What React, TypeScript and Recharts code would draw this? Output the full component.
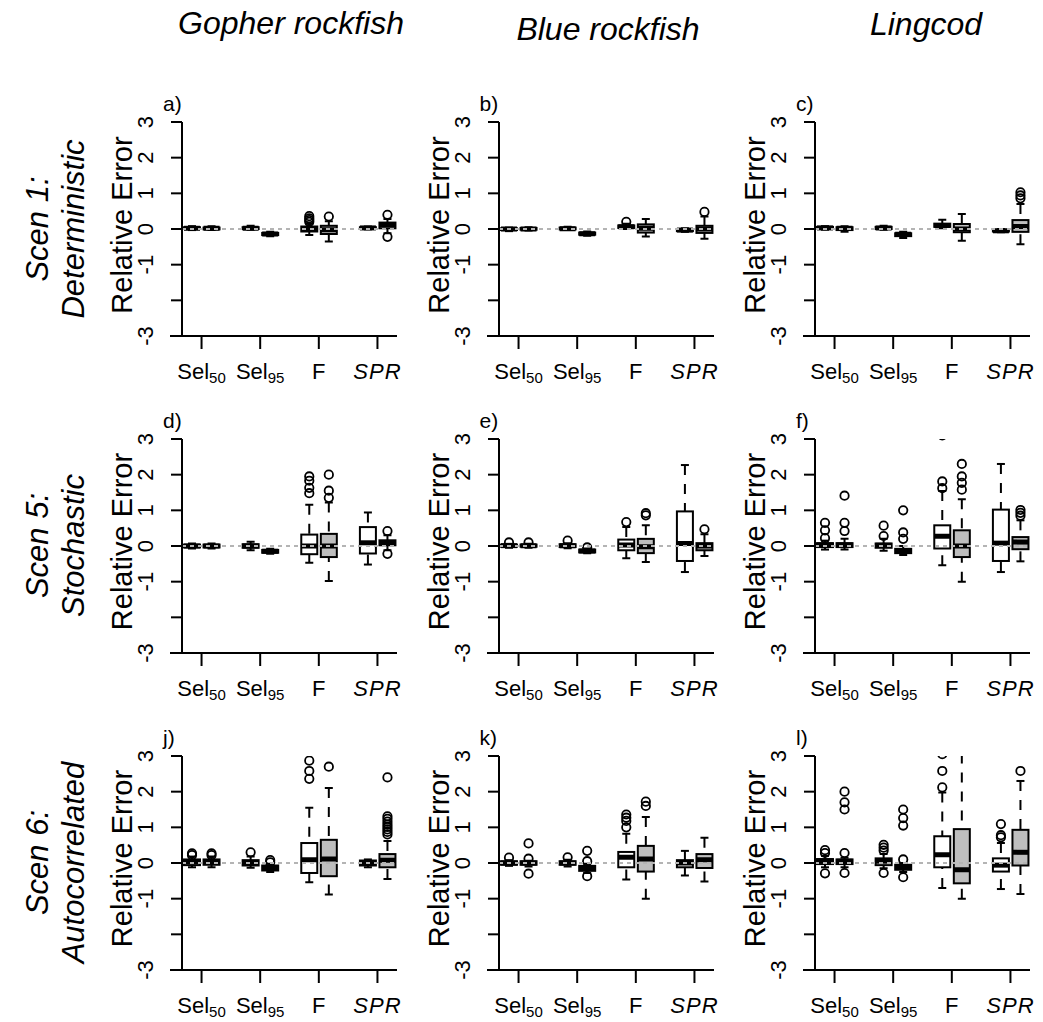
import React from 'react';
import { ComposedChart, Bar, XAxis, YAxis, ReferenceLine } from 'recharts';

type Box = { wl: number; q1: number; med: number; q3: number; wh: number; out: number[] };

// ---------- categories / labels ----------
const SPECIES = ['Gopher rockfish', 'Blue rockfish', 'Lingcod'];
const SCEN_LINE1 = ['Scen 1:', 'Scen 5:', 'Scen 6:'];
const SCEN_LINE2 = ['Deterministic', 'Stochastic', 'Autocorrelated'];
const PANEL_LETTERS = [
  ['a)', 'b)', 'c)'],
  ['d)', 'e)', 'f)'],
  ['j)', 'k)', 'l)'],
];
const PARAM_LABELS = [
  { main: 'Sel', sub: '50', italic: false },
  { main: 'Sel', sub: '95', italic: false },
  { main: 'F', sub: '', italic: false },
  { main: 'SPR', sub: '', italic: true },
];
const PARAM_TICKS = [1.5, 4.5, 7.5, 10.5];
const BOX_POSITIONS = [1, 2, 4, 5, 7, 8, 10, 11];
const Y_TICKS = [-3, -2, -1, 0, 1, 2, 3];
const Y_TICK_LABELS = ['-3', '', '-1', '0', '1', '2', '3'];
const BOX_FILLS = ['#FFFFFF', '#BEBEBE'];
const Y_MIN = -3;
const Y_MAX = 3;

// ---------- data: order = Sel50 (white, grey), Sel95 (white, grey), F (white, grey), SPR (white, grey) ----------
const boxesA: Box[] = [
  { wl: -0.03, q1: 0.0, med: 0.02, q3: 0.05, wh: 0.08, out: [] },
  { wl: -0.03, q1: -0.01, med: 0.02, q3: 0.04, wh: 0.08, out: [] },
  { wl: -0.02, q1: 0.0, med: 0.02, q3: 0.05, wh: 0.09, out: [] },
  { wl: -0.2, q1: -0.17, med: -0.14, q3: -0.11, wh: -0.08, out: [] },
  { wl: -0.17, q1: -0.07, med: 0.0, q3: 0.07, wh: 0.15, out: [0.2, 0.25, 0.3, 0.36] },
  { wl: -0.35, q1: -0.14, med: -0.02, q3: 0.09, wh: 0.22, out: [0.35] },
  { wl: -0.01, q1: 0.01, med: 0.03, q3: 0.05, wh: 0.07, out: [] },
  { wl: -0.12, q1: 0.02, med: 0.12, q3: 0.18, wh: 0.28, out: [0.4, -0.22] },
];
const boxesB: Box[] = [
  { wl: -0.06, q1: -0.03, med: 0.0, q3: 0.02, wh: 0.04, out: [] },
  { wl: -0.04, q1: -0.02, med: 0.0, q3: 0.03, wh: 0.05, out: [] },
  { wl: -0.03, q1: -0.01, med: 0.01, q3: 0.04, wh: 0.06, out: [] },
  { wl: -0.19, q1: -0.16, med: -0.13, q3: -0.1, wh: -0.07, out: [] },
  { wl: 0.0, q1: 0.03, med: 0.06, q3: 0.1, wh: 0.15, out: [0.2] },
  { wl: -0.21, q1: -0.1, med: 0.02, q3: 0.13, wh: 0.28, out: [] },
  { wl: -0.08, q1: -0.06, med: -0.03, q3: -0.01, wh: 0.02, out: [] },
  { wl: -0.27, q1: -0.11, med: 0.0, q3: 0.09, wh: 0.35, out: [0.48] },
];
const boxesC: Box[] = [
  { wl: -0.02, q1: 0.0, med: 0.03, q3: 0.06, wh: 0.08, out: [] },
  { wl: -0.08, q1: -0.03, med: 0.02, q3: 0.05, wh: 0.08, out: [] },
  { wl: -0.02, q1: 0.0, med: 0.03, q3: 0.06, wh: 0.09, out: [] },
  { wl: -0.25, q1: -0.2, med: -0.15, q3: -0.12, wh: -0.08, out: [] },
  { wl: 0.02, q1: 0.06, med: 0.1, q3: 0.15, wh: 0.26, out: [] },
  { wl: -0.33, q1: -0.09, med: 0.0, q3: 0.14, wh: 0.42, out: [] },
  { wl: -0.09, q1: -0.07, med: -0.05, q3: -0.02, wh: 0.0, out: [] },
  { wl: -0.43, q1: -0.08, med: 0.07, q3: 0.25, wh: 0.7, out: [0.86, 0.94, 1.03] },
];
const boxesD: Box[] = [
  { wl: -0.07, q1: -0.04, med: 0.0, q3: 0.04, wh: 0.07, out: [] },
  { wl: -0.07, q1: -0.04, med: 0.0, q3: 0.04, wh: 0.07, out: [] },
  { wl: -0.12, q1: -0.05, med: 0.0, q3: 0.05, wh: 0.12, out: [] },
  { wl: -0.22, q1: -0.19, med: -0.15, q3: -0.11, wh: -0.08, out: [] },
  { wl: -0.47, q1: -0.23, med: 0.0, q3: 0.32, wh: 1.16, out: [1.48, 1.63, 1.83, 1.95] },
  { wl: -0.98, q1: -0.31, med: 0.0, q3: 0.34, wh: 1.22, out: [1.35, 1.55, 2.0] },
  { wl: -0.52, q1: -0.21, med: 0.09, q3: 0.53, wh: 0.94, out: [] },
  { wl: -0.12, q1: 0.02, med: 0.1, q3: 0.16, wh: 0.3, out: [0.42, -0.22] },
];
const boxesE: Box[] = [
  { wl: -0.05, q1: -0.02, med: 0.01, q3: 0.04, wh: 0.06, out: [0.1] },
  { wl: -0.05, q1: -0.02, med: 0.01, q3: 0.04, wh: 0.06, out: [0.1] },
  { wl: -0.06, q1: -0.03, med: 0.01, q3: 0.05, wh: 0.08, out: [0.15] },
  { wl: -0.2, q1: -0.18, med: -0.14, q3: -0.1, wh: -0.07, out: [-0.04] },
  { wl: -0.34, q1: -0.12, med: 0.03, q3: 0.18, wh: 0.53, out: [0.67] },
  { wl: -0.45, q1: -0.2, med: -0.02, q3: 0.2, wh: 0.58, out: [0.86, 0.92] },
  { wl: -0.73, q1: -0.42, med: 0.07, q3: 0.97, wh: 2.27, out: [] },
  { wl: -0.28, q1: -0.12, med: 0.0, q3: 0.08, wh: 0.33, out: [0.47] },
];
const boxesF: Box[] = [
  { wl: -0.1, q1: -0.03, med: 0.03, q3: 0.08, wh: 0.15, out: [0.22, 0.44, 0.65] },
  { wl: -0.1, q1: -0.03, med: 0.03, q3: 0.08, wh: 0.2, out: [0.42, 0.65, 1.41] },
  { wl: -0.13, q1: -0.05, med: 0.02, q3: 0.07, wh: 0.2, out: [0.28, 0.57] },
  { wl: -0.25, q1: -0.2, med: -0.14, q3: -0.08, wh: 0.0, out: [0.2, 0.38, 1.0] },
  { wl: -0.54, q1: -0.07, med: 0.27, q3: 0.58, wh: 1.54, out: [1.62, 1.81, 3.1] },
  { wl: -1.0, q1: -0.31, med: 0.0, q3: 0.44, wh: 1.31, out: [1.58, 1.77, 1.95, 2.3] },
  { wl: -0.73, q1: -0.42, med: 0.08, q3: 1.02, wh: 2.3, out: [] },
  { wl: -0.43, q1: -0.09, med: 0.11, q3: 0.25, wh: 0.72, out: [0.85, 0.93, 1.01] },
];
const boxesJ: Box[] = [
  { wl: -0.12, q1: -0.06, med: 0.03, q3: 0.1, wh: 0.18, out: [0.22, 0.27] },
  { wl: -0.12, q1: -0.05, med: 0.03, q3: 0.1, wh: 0.18, out: [0.22, 0.27] },
  { wl: -0.13, q1: -0.07, med: 0.0, q3: 0.08, wh: 0.18, out: [0.3] },
  { wl: -0.25, q1: -0.21, med: -0.15, q3: -0.07, wh: -0.02, out: [0.02, 0.08] },
  { wl: -0.54, q1: -0.28, med: 0.09, q3: 0.56, wh: 1.55, out: [2.36, 2.58, 2.87] },
  { wl: -0.88, q1: -0.37, med: 0.11, q3: 0.65, wh: 2.1, out: [2.7] },
  { wl: -0.12, q1: -0.07, med: 0.0, q3: 0.07, wh: 0.1, out: [] },
  { wl: -0.45, q1: -0.12, med: 0.08, q3: 0.25, wh: 0.62, out: [0.8, 0.87, 0.94, 1.01, 1.08, 1.16, 1.24, 1.31, 2.4] },
];
const boxesK: Box[] = [
  { wl: -0.08, q1: -0.05, med: 0.0, q3: 0.05, wh: 0.08, out: [0.15] },
  { wl: -0.1, q1: -0.05, med: 0.0, q3: 0.05, wh: 0.06, out: [0.12, 0.55, -0.3] },
  { wl: -0.1, q1: -0.05, med: 0.0, q3: 0.05, wh: 0.09, out: [0.16] },
  { wl: -0.28, q1: -0.22, med: -0.15, q3: -0.08, wh: -0.02, out: [0.05, 0.34, -0.37] },
  { wl: -0.46, q1: -0.12, med: 0.16, q3: 0.31, wh: 0.82, out: [1.0, 1.18, 1.27, 1.36] },
  { wl: -1.0, q1: -0.24, med: 0.11, q3: 0.48, wh: 1.29, out: [1.6, 1.72] },
  { wl: -0.35, q1: -0.12, med: 0.0, q3: 0.08, wh: 0.34, out: [] },
  { wl: -0.52, q1: -0.14, med: 0.09, q3: 0.25, wh: 0.71, out: [] },
];
const boxesL: Box[] = [
  { wl: -0.12, q1: -0.03, med: 0.06, q3: 0.11, wh: 0.2, out: [0.28, 0.36, -0.29] },
  { wl: -0.12, q1: -0.03, med: 0.05, q3: 0.1, wh: 0.15, out: [0.28, -0.28, 1.5, 1.7, 2.0] },
  { wl: -0.15, q1: -0.06, med: 0.05, q3: 0.13, wh: 0.25, out: [0.35, 0.43, 0.51, -0.28] },
  { wl: -0.25, q1: -0.19, med: -0.12, q3: -0.05, wh: 0.0, out: [0.1, -0.4, 1.05, 1.26, 1.5] },
  { wl: -0.7, q1: -0.12, med: 0.23, q3: 0.75, wh: 1.98, out: [2.12, 2.58, 3.05] },
  { wl: -1.0, q1: -0.57, med: -0.19, q3: 0.95, wh: 3.6, out: [] },
  { wl: -0.73, q1: -0.24, med: -0.06, q3: 0.13, wh: 0.56, out: [0.72, 0.78, 1.09] },
  { wl: -0.87, q1: -0.07, med: 0.3, q3: 0.93, wh: 2.3, out: [2.58] },
];

const PANEL_DATA: Box[][][] = [
  [boxesA, boxesB, boxesC],
  [boxesD, boxesE, boxesF],
  [boxesJ, boxesK, boxesL],
];

// ---------- layout ----------
const FONT = '"Liberation Sans", Arial, Helvetica, sans-serif';
const COL_AXIS_X = [182, 498.5, 815];
const ROW_TOP = [122, 438.5, 755.5];
const PLOT_W = 215;
const PLOT_H = 214;
const CH_LEFT = 100;
const CH_TOP = 50;
const CH_W = CH_LEFT + PLOT_W + 30;
const CH_H = CH_TOP + PLOT_H + 60;

function BoxShape(props: any) {
  const { x, y, width, height, payload, clipId, index } = props;
  if (!payload || x == null || y == null) return null;
  const cx = x + width / 2;
  const py = (v: number) => y + ((Y_MAX - v) / (Y_MAX - Y_MIN)) * height;
  const half = width / 2;
  const cap = width / 4;
  const { wl, q1, med, q3, wh, out, fill } = payload;
  const id = `${clipId}-${index}`;
  return (
    <g>
      <defs>
        <clipPath id={id}>
          <rect x={cx - 40} y={y} width={80} height={height + 40} />
        </clipPath>
      </defs>
      <g clipPath={`url(#${id})`}>
        <line x1={cx} x2={cx} y1={py(wh)} y2={py(q3)} stroke="#000" strokeWidth={2} strokeDasharray="10 9" />
        <line x1={cx} x2={cx} y1={py(wl)} y2={py(q1)} stroke="#000" strokeWidth={2} strokeDasharray="10 9" />
        <line x1={cx - cap} x2={cx + cap} y1={py(wh)} y2={py(wh)} stroke="#000" strokeWidth={2} />
        <line x1={cx - cap} x2={cx + cap} y1={py(wl)} y2={py(wl)} stroke="#000" strokeWidth={2} />
        <rect x={cx - half} y={py(q3)} width={width} height={Math.max(py(q1) - py(q3), 0.5)} fill={fill} stroke="#000" strokeWidth={2} />
        <line x1={cx - half} x2={cx + half} y1={py(med)} y2={py(med)} stroke="#000" strokeWidth={5} />
        {out.map((o: number, k: number) => (
          <circle key={k} cx={cx} cy={py(o)} r={4.2} fill="none" stroke="#000" strokeWidth={1.8} />
        ))}
      </g>
    </g>
  );
}

function XTick(props: any) {
  const { x, y, payload } = props;
  const idx = PARAM_TICKS.indexOf(payload.value);
  const lab = PARAM_LABELS[idx];
  if (!lab) return null;
  return (
    <text x={x} y={y + 28} textAnchor="middle" fontSize={22} fontFamily={FONT} fill="#000" fontStyle={lab.italic ? 'italic' : 'normal'} letterSpacing={lab.italic ? 1 : 0}>
      {lab.main}
      {lab.sub ? (
        <tspan fontSize={15} dy={4}>
          {lab.sub}
        </tspan>
      ) : null}
    </text>
  );
}

function YTick(props: any) {
  const { x, y, payload } = props;
  const idx = Y_TICKS.indexOf(payload.value);
  const label = Y_TICK_LABELS[idx];
  if (!label) return null;
  const bx = x - 16;
  return (
    <text x={bx} y={y} transform={`rotate(-90 ${bx} ${y})`} textAnchor="middle" fontSize={22} fontFamily={FONT} fill="#000">
      {label}
    </text>
  );
}

function Panel({ boxes, id, left, top }: { boxes: Box[]; id: string; left: number; top: number }) {
  const data = boxes.map((b, i) => ({
    ...b,
    pos: BOX_POSITIONS[i],
    fill: BOX_FILLS[i % 2],
    span: [Y_MIN, Y_MAX],
  }));
  return (
    <div style={{ position: 'absolute', left: left - CH_LEFT, top: top - CH_TOP }}>
      <ComposedChart width={CH_W} height={CH_H} data={data} margin={{ top: CH_TOP, right: 30, bottom: 0, left: 40 }}>
        <XAxis
          type="number"
          dataKey="pos"
          domain={[0.5, 11.5]}
          ticks={PARAM_TICKS}
          interval={0}
          allowDataOverflow
          height={60}
          tickSize={13}
          axisLine={{ stroke: '#000', strokeWidth: 2 }}
          tickLine={{ stroke: '#000', strokeWidth: 2 }}
          tick={<XTick />}
        />
        <YAxis
          type="number"
          domain={[Y_MIN, Y_MAX]}
          ticks={Y_TICKS}
          interval={0}
          allowDataOverflow
          width={60}
          tickSize={11}
          axisLine={{ stroke: '#000', strokeWidth: 2 }}
          tickLine={{ stroke: '#000', strokeWidth: 2 }}
          tick={<YTick />}
        />
        <Bar dataKey="span" barSize={16} isAnimationActive={false} shape={(p: any) => <BoxShape {...p} clipId={id} />} />
        <ReferenceLine y={0} stroke="#b4b4b4" strokeWidth={2} strokeDasharray="4 4" />
        <ReferenceLine
          segment={[
            { x: 0.5 - 12 / (PLOT_W / 11), y: Y_MIN },
            { x: 0.5, y: Y_MIN },
          ]}
          stroke="#000"
          strokeWidth={2}
          ifOverflow="visible"
        />
      </ComposedChart>
    </div>
  );
}

export default function App() {
  const titleBaselines = [34, 40, 35];
  const titleCenters = [291, 608, 926];
  return (
    <div style={{ position: 'absolute', left: 0, top: 0, width: 1043, height: 1022, background: '#fff', overflow: 'hidden', fontFamily: FONT }}>
      {PANEL_DATA.map((row, r) =>
        row.map((boxes, c) => (
          <Panel key={`${r}-${c}`} boxes={boxes} id={`clip-${r}-${c}`} left={COL_AXIS_X[c]} top={ROW_TOP[r]} />
        ))
      )}
      <svg width={1043} height={1022} style={{ position: 'absolute', left: 0, top: 0, pointerEvents: 'none' }}>
        {SPECIES.map((s, c) => (
          <text key={s} x={titleCenters[c]} y={titleBaselines[c]} textAnchor="middle" fontSize={32} fontStyle="italic" fontFamily={FONT} fill="#000">
            {s}
          </text>
        ))}
        {SCEN_LINE1.map((s, r) => {
          const cy = ROW_TOP[r] + PLOT_H / 2;
          return (
            <g key={s}>
              <text x={48} y={cy} transform={`rotate(-90 48 ${cy})`} textAnchor="middle" fontSize={31} fontStyle="italic" fontFamily={FONT} fill="#000">
                {s}
              </text>
              <text x={84} y={cy} transform={`rotate(-90 84 ${cy})`} textAnchor="middle" fontSize={31} fontStyle="italic" fontFamily={FONT} fill="#000">
                {SCEN_LINE2[r]}
              </text>
            </g>
          );
        })}
        {ROW_TOP.map((top, r) =>
          COL_AXIS_X.map((ax, c) => {
            const lx = ax - 50;
            const ly = top + 103;
            return (
              <g key={`${r}-${c}`}>
                <text x={ax - 19} y={top - 11} fontSize={21} fontFamily={FONT} fill="#000">
                  {PANEL_LETTERS[r][c]}
                </text>
                <text x={lx} y={ly} transform={`rotate(-90 ${lx} ${ly})`} textAnchor="middle" fontSize={29} fontFamily={FONT} fill="#000">
                  Relative Error
                </text>
              </g>
            );
          })
        )}
      </svg>
    </div>
  );
}
